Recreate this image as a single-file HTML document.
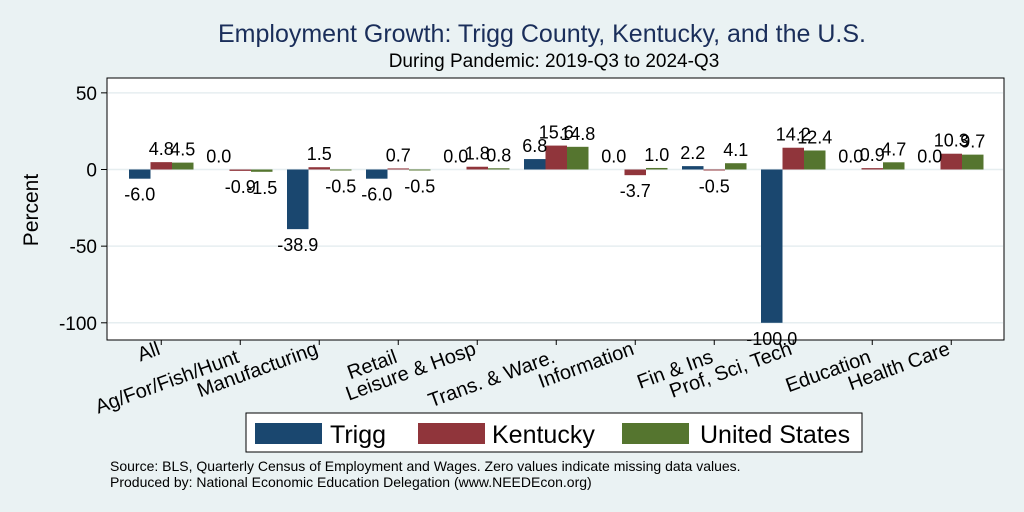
<!DOCTYPE html>
<html><head><meta charset="utf-8"><style>
body{margin:0;background:#eaf2f3;}
svg{display:block;font-family:"Liberation Sans",Arial,sans-serif;}
</style></head><body>
<svg id="c" width="1024" height="512">
<rect x="0" y="0" width="1024" height="512" fill="#eaf2f3"/>
<text x="542" y="42" text-anchor="middle" font-size="25" fill="#1a2e5a">Employment Growth: Trigg County, Kentucky, and the U.S.</text>
<text x="554" y="67" text-anchor="middle" font-size="19" fill="#000">During Pandemic: 2019-Q3 to 2024-Q3</text>
<rect x="107" y="78" width="897" height="262" fill="#fff" stroke="#000" stroke-width="1"/>
<g id="grid"></g><g id="bars"></g><g id="labels"></g>
<text transform="translate(38,210) rotate(-90)" text-anchor="middle" font-size="21">Percent</text>
<rect x="246" y="413" width="616" height="39" fill="#fff" stroke="#000"/>
<g><rect x="255" y="423" width="67" height="21" fill="#1a476f"/><text x="330" y="443" font-size="25">Trigg</text></g>
<g><rect x="418" y="423" width="67" height="21" fill="#90353b"/><text x="492" y="443" font-size="25">Kentucky</text></g>
<g><rect x="622" y="423" width="67" height="21" fill="#55752f"/><text x="700" y="443" font-size="25">United States</text></g>
<text x="110" y="471" font-size="14">Source: BLS, Quarterly Census of Employment and Wages. Zero values indicate missing data values.</text>
<text x="110" y="487" font-size="14">Produced by: National Economic Education Delegation (www.NEEDEcon.org)</text>
</svg>
<script>
const categories=["All","Ag/For/Fish/Hunt","Manufacturing","Retail","Leisure & Hosp","Trans. & Ware.","Information","Fin & Ins","Prof, Sci, Tech","Education","Health Care"];
const trigg=[-6.0,0.0,-38.9,-6.0,0.0,6.8,0.0,2.2,-100.0,0.0,0.0];
const kentucky=[4.8,-0.9,1.5,0.7,1.8,15.6,-3.7,-0.5,14.2,0.9,10.3];
const us=[4.5,-1.5,-0.5,-0.5,0.8,14.8,1.0,4.1,12.4,4.7,9.7];
const yTicks=[50,0,-50,-100];
const NS="http://www.w3.org/2000/svg";
const y=v=>169.5-v*1.533;
const gx=i=>129+i*79;
const bw=21.5;
function mk(t,a,p){const e=document.createElementNS(NS,t);for(const k in a)e.setAttribute(k,a[k]);p.appendChild(e);return e;}
const grid=document.getElementById('grid'),bars=document.getElementById('bars'),labels=document.getElementById('labels');
yTicks.forEach(t=>{
 const l=mk('line',{x1:108,x2:1003,y1:y(t),y2:y(t),stroke:'#e6eef0','stroke-width':1.5},grid);
 
 
 const tk=mk('line',{x1:101,x2:107,y1:y(t),y2:y(t),stroke:'#000'},grid);
 
 
 const tx=mk('text',{x:97,y:y(t)+7,'text-anchor':'end','font-size':19},grid);
 tx.textContent=t;
 
 
});
const series=[[trigg,'#1a476f'],[kentucky,'#90353b'],[us,'#55752f']];
categories.forEach((c,i)=>{
 series.forEach(([arr,col],s)=>{
  const v=arr[i],x=gx(i)+s*bw;
  const top=Math.min(y(v),y(0)),h=Math.max(Math.abs(y(v)-y(0)),v===0?0:1);
  const r=mk('rect',{x:x,y:top,width:bw,height:h,fill:col},bars);
  
  
  const lt=mk('text',{x:x+bw/2,y:v<0?y(v)+22:y(v)-7,'text-anchor':'middle','font-size':18},labels);
  lt.textContent=v.toFixed(1);
  
  
 });
 const cx=gx(i)+1.5*bw;
 const tk=mk('line',{x1:cx,x2:cx,y1:340,y2:345,stroke:'#000'},labels);
 
 
 const xl=mk('text',{transform:`translate(${cx},${i%2?362:354}) rotate(-20)`,'text-anchor':'end','font-size':20},labels);
 xl.textContent=c;
 
 
});
</script>
</body></html>
